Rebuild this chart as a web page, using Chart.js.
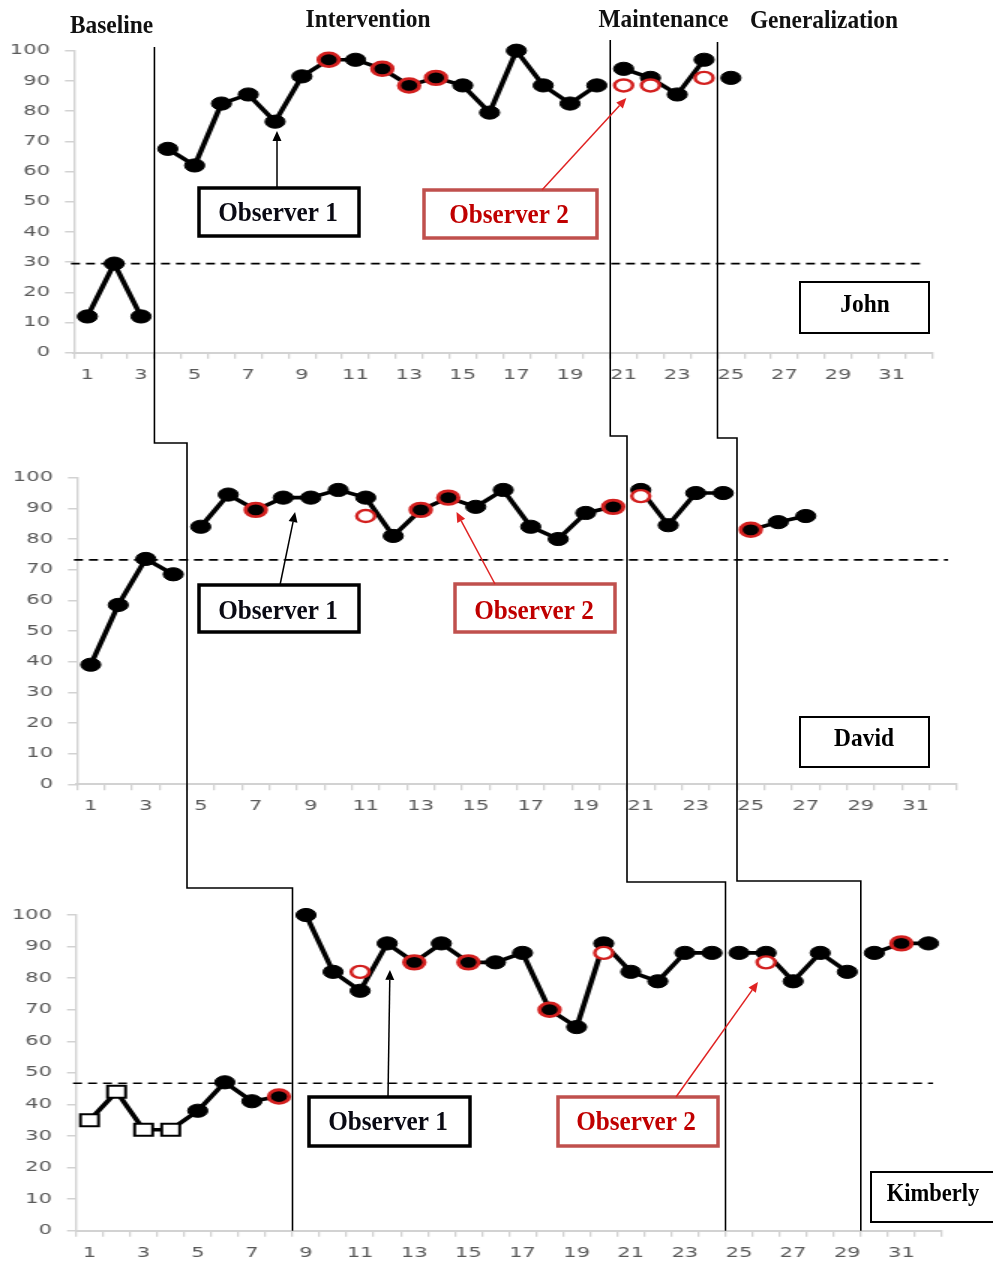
<!DOCTYPE html>
<html>
<head>
<meta charset="utf-8">
<title>Multiple baseline - John, David, Kimberly</title>
<script src="https://cdn.jsdelivr.net/npm/chart.js@4.4.1/dist/chart.umd.min.js"></script>
<style>
  body { margin: 0; background: #fff; }
  #page { position: relative; width: 993px; height: 1265px; overflow: hidden; background: #fff; }
  #page canvas { position: absolute; left: 0; top: 0; }
</style>
</head>
<body>
<div id="page">
  <canvas id="john" width="662" height="1265" style="width:993px;height:1265px"></canvas>
  <canvas id="david" width="662" height="1265" style="width:993px;height:1265px"></canvas>
  <canvas id="kimberly" width="662" height="1265" style="width:993px;height:1265px"></canvas>
  <canvas id="overlay" width="993" height="1265" style="width:993px;height:1265px"></canvas>
</div>
<script>
// sessions 1..32 on every panel
var sessions = [];
for (var s = 1; s <= 32; s++) { sessions.push(String(s)); }

// --- John ---
var johnObs1 = [12, 29.5, 12, 67.5, 62, 82.5, 85.5, 76.5, 91.5, 97, 97, 94, 88.5, 91, 88.5, 79.5,
  100, 88.5, 82.5, 88.5, 94, 91, 85.5, 97, 91, null, null, null, null, null, null, null];
var johnObs2Sessions = [10, 12, 13, 14, 21, 22, 24];
var johnObs2Values = [97, 94, 88.5, 91, 88.5, 88.5, 91];
var johnPhaseEnds = [3, 20, 24];   // last session before each phase change
var johnCriterion = 29.5;

// --- David ---
var davidObs1 = [39, 58.5, 73.5, 68.5, 84, 94.5, 89.5, 93.5, 93.5, 96, 93.5, 81, 89.5, 93.5, 90.5, 96,
  84, 80, 88.5, 90.5, 96, 84.5, 95, 95, 83, 85.5, 87.5, null, null, null, null, null];
var davidObs2Sessions = [7, 11, 13, 14, 20, 21, 25];
var davidObs2Values = [89.5, 87.5, 89.5, 93.5, 90.5, 94, 83];
var davidPhaseEnds = [4, 20, 24];
var davidCriterion = 73.2;

// --- Kimberly ---
var kimberlyObs1 = [35, 44, 32, 32, 38, 47, 41, 42.5, 100, 82, 76, 91, 85, 91, 85, 85,
  88, 70, 64.5, 91, 82, 79, 88, 88, 88, 88, 79, 88, 82, 88, 91, 91];
var kimberlyObs2Sessions = [8, 11, 13, 15, 18, 20, 26, 31];
var kimberlyObs2Values = [42.5, 82, 85, 85, 70, 88, 85, 91];
var kimberlyPhaseEnds = [8, 24, 29];
var kimberlyCriterion = 46.7;
var kimberlySquares = [1, 2, 3, 4];   // sessions drawn as open squares

var phaseNames = ['Baseline', 'Intervention', 'Maintenance', 'Generalization'];

// the Excel plot in the original is stretched sideways, so the chart canvases are too
var SX = 993 / 662;

var panels = [
  { id: 'john', name: 'John', obs1: johnObs1, obs2S: johnObs2Sessions, obs2V: johnObs2Values,
    ends: johnPhaseEnds, crit: johnCriterion, squares: [],
    area: { left: 74, right: 932, top: 50.7, bottom: 352.7 } },
  { id: 'david', name: 'David', obs1: davidObs1, obs2S: davidObs2Sessions, obs2V: davidObs2Values,
    ends: davidPhaseEnds, crit: davidCriterion, squares: [],
    area: { left: 77, right: 957, top: 477.7, bottom: 784.3 } },
  { id: 'kimberly', name: 'Kimberly', obs1: kimberlyObs1, obs2S: kimberlyObs2Sessions, obs2V: kimberlyObs2Values,
    ends: kimberlyPhaseEnds, crit: kimberlyCriterion, squares: kimberlySquares,
    area: { left: 76, right: 942, top: 915, bottom: 1230.7 } }
];

// dashed line at the highest baseline point
var criterionLine = {
  id: 'criterionLine',
  beforeDatasetsDraw: function(chart, args, opts) {
    var a = chart.chartArea;
    var y = chart.scales.y.getPixelForValue(opts.value);
    var ctx = chart.ctx;
    ctx.save();
    ctx.strokeStyle = '#000';
    ctx.lineWidth = 1.7;
    ctx.setLineDash([6, 4]);
    ctx.beginPath();
    ctx.moveTo(a.left - 2, y);
    ctx.lineTo(a.right - 6, y);
    ctx.stroke();
    ctx.restore();
  }
};

// one dataset per phase so the line breaks at every phase change
function phaseDatasets(p) {
  var bounds = [0].concat(p.ends).concat([p.obs1.length]);
  var sets = [];
  for (var k = 0; k < bounds.length - 1; k++) {
    (function(from, to) {
      var isSquare = function(ctx) { return p.squares.indexOf(ctx.dataIndex + 1) !== -1; };
      sets.push({
        label: p.name + ' ' + phaseNames[k],
        data: p.obs1.map(function(v, i) { return (i >= from && i < to) ? v : null; }),
        borderColor: '#000',
        borderWidth: 3.6,
        borderJoinStyle: 'round',
        spanGaps: false,
        clip: false,
        order: 2,
        pointStyle: function(ctx) { return isSquare(ctx) ? 'rect' : 'circle'; },
        pointRadius: function(ctx) { return isSquare(ctx) ? 8.5 : 6.6; },
        pointBackgroundColor: function(ctx) { return isSquare(ctx) ? '#fff' : '#000'; },
        pointBorderColor: '#000',
        pointBorderWidth: function(ctx) { return isSquare(ctx) ? 2 : 1; }
      });
    })(bounds[k], bounds[k + 1]);
  }
  return sets;
}

// second observer: ring on the dot when it agrees, open circle otherwise
function observer2Dataset(p) {
  var agree = function(ctx) {
    return p.obs1[p.obs2S[ctx.dataIndex] - 1] === p.obs2V[ctx.dataIndex];
  };
  return {
    label: p.name + ' Observer 2',
    data: p.obs2S.map(function(sess, i) { return { x: String(sess), y: p.obs2V[i] }; }),
    showLine: false,
    clip: false,
    order: 1,
    pointStyle: 'circle',
    pointRadius: function(ctx) { return agree(ctx) ? 6.8 : 6; },
    pointBorderWidth: function(ctx) { return agree(ctx) ? 2.8 : 2.4; },
    pointBorderColor: '#d3201f',
    pointBackgroundColor: function(ctx) { return agree(ctx) ? 'rgba(0,0,0,0)' : '#fff'; }
  };
}

function makeChart(p) {
  var a = p.area;
  var tickFont = { family: 'DejaVu Sans', size: 14 };
  return new Chart(document.getElementById(p.id), {
    type: 'line',
    data: {
      labels: sessions,
      datasets: [observer2Dataset(p)].concat(phaseDatasets(p))
    },
    plugins: [criterionLine],
    options: {
      responsive: false,
      animation: false,
      devicePixelRatio: 1,
      events: [],
      layout: { padding: { left: 0, top: a.top, right: 662 - a.right / SX, bottom: 1265 - a.bottom - 30 } },
      plugins: {
        legend: { display: false },
        tooltip: { enabled: false },
        criterionLine: { value: p.crit }
      },
      scales: {
        x: {
          type: 'category',
          offset: true,
          grid: { offset: true, drawOnChartArea: false, drawTicks: true, tickLength: 6, color: '#d2d2d2', lineWidth: 1.3 },
          border: { color: '#d2d2d2', width: 2 },
          ticks: {
            autoSkip: false, maxRotation: 0, padding: 8, color: '#5a5a5a', font: tickFont,
            callback: function(v, i) { return i % 2 === 0 ? sessions[i] : ''; }
          },
          afterFit: function(scale) { scale.height = 30; }
        },
        y: {
          min: 0,
          max: 100,
          grid: { drawOnChartArea: false, drawTicks: true, tickLength: 6, color: '#d2d2d2', lineWidth: 1.5 },
          border: { color: '#d2d2d2', width: 1.4 },
          ticks: { stepSize: 10, padding: 10, color: '#5a5a5a', font: tickFont },
          afterFit: function(scale) { scale.width = a.left / SX; }
        }
      }
    }
  });
}

var charts = panels.map(makeChart);

// ---------- overlay: phase lines, titles, boxes, arrows ----------
var ov = document.getElementById('overlay').getContext('2d');

function pageX(chart, sessionPos) {
  return chart.scales.x.getPixelForValue(sessionPos - 1) * SX;
}
function pageY(chart, value) {
  return chart.scales.y.getPixelForValue(value);
}

function serif(txt, cx, baseY, size, color) {
  ov.save();
  ov.font = 'bold ' + size + 'px "Liberation Serif"';
  ov.translate(cx, baseY);
  ov.scale(0.9, 1);
  ov.textAlign = 'center';
  ov.textBaseline = 'alphabetic';
  ov.fillStyle = color;
  ov.fillText(txt, 0, 0);
  ov.restore();
}

function box(x, y, w, h, color, lw) {
  ov.save();
  ov.strokeStyle = color;
  ov.lineWidth = lw;
  ov.fillStyle = '#fff';
  ov.fillRect(x, y, w, h);
  ov.strokeRect(x, y, w, h);
  ov.restore();
}

function arrow(x1, y1, x2, y2, color) {
  var ang = Math.atan2(y2 - y1, x2 - x1);
  var len = 10, half = 4.5;
  ov.save();
  ov.strokeStyle = color;
  ov.fillStyle = color;
  ov.lineWidth = 1.5;
  ov.beginPath();
  ov.moveTo(x1, y1);
  ov.lineTo(x2 - Math.cos(ang) * len, y2 - Math.sin(ang) * len);
  ov.stroke();
  ov.beginPath();
  ov.moveTo(x2, y2);
  ov.lineTo(x2 - Math.cos(ang) * len - Math.sin(ang) * half, y2 - Math.sin(ang) * len + Math.cos(ang) * half);
  ov.lineTo(x2 - Math.cos(ang) * len + Math.sin(ang) * half, y2 - Math.sin(ang) * len - Math.cos(ang) * half);
  ov.closePath();
  ov.fill();
  ov.restore();
}

// stepped phase-change lines running through the three panels
var lineTops = [47, 40, 42];
var joinJD = [443, 436, 438];
var joinDK = [888, 882, 881];
ov.save();
ov.strokeStyle = '#000';
ov.lineWidth = 1.6;
for (var k = 0; k < 3; k++) {
  var xj = pageX(charts[0], johnPhaseEnds[k] + 0.5);
  var xd = pageX(charts[1], davidPhaseEnds[k] + 0.5);
  var xk = pageX(charts[2], kimberlyPhaseEnds[k] + 0.5);
  ov.beginPath();
  ov.moveTo(xj, lineTops[k]);
  ov.lineTo(xj, joinJD[k]);
  ov.lineTo(xd, joinJD[k]);
  ov.lineTo(xd, joinDK[k]);
  ov.lineTo(xk, joinDK[k]);
  ov.lineTo(xk, charts[2].chartArea.bottom);
  ov.stroke();
}
ov.restore();

// phase titles
serif(phaseNames[0], 111.5, 33, 26, '#111');
serif(phaseNames[1], 368, 27, 26, '#111');
serif(phaseNames[2], 663.5, 27, 26, '#111');
serif(phaseNames[3], 824, 28, 26, '#111');

var obsRed = '#c0504d';
var arrowRed = '#e02323';

// John
box(199, 188, 160, 48, '#000', 3.5);
serif('Observer 1', 278, 221, 28, '#0a0a14');
arrow(277, 188, pageX(charts[0], 8.07), pageY(charts[0], 73.4), '#000');
box(424, 190, 173, 48, obsRed, 3.5);
serif('Observer 2', 509, 223, 28, '#c00000');
arrow(542, 190, pageX(charts[0], 21.1), pageY(charts[0], 84.3), arrowRed);
box(800, 282, 129, 51, '#000', 2);
serif('John', 865, 312, 26, '#000');

// David
box(199, 585, 160, 47, '#000', 3.5);
serif('Observer 1', 278, 619, 28, '#0a0a14');
arrow(280, 585, pageX(charts[1], 8.43), pageY(charts[1], 88.8), '#000');
box(455, 584, 160, 48, obsRed, 3.5);
serif('Observer 2', 534, 619, 28, '#c00000');
arrow(495, 584, pageX(charts[1], 14.3), pageY(charts[1], 88.8), arrowRed);
box(800, 717, 129, 50, '#000', 2);
serif('David', 864, 746, 26, '#000');

// Kimberly
box(309, 1097, 161, 49, '#000', 3.5);
serif('Observer 1', 388, 1130, 28, '#0a0a14');
arrow(388, 1097, pageX(charts[2], 12.1), pageY(charts[2], 82.6), '#000');
box(558, 1097, 160, 49, obsRed, 3.5);
serif('Observer 2', 636, 1130, 28, '#c00000');
arrow(676, 1097, pageX(charts[2], 25.7), pageY(charts[2], 78.8), arrowRed);
box(871, 1172, 130, 50, '#000', 2);
serif('Kimberly', 933, 1201, 25, '#000');
</script>
</body>
</html>
